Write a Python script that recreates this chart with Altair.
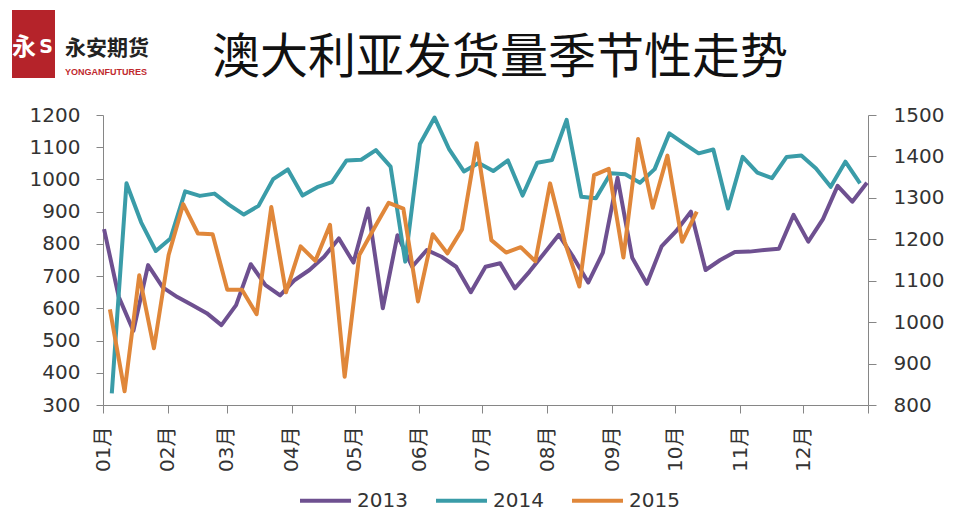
import altair as alt
import pandas as pd

TITLE = "澳大利亚发货量季节性走势"
LOGO_CN = "永安期货"
LOGO_EN = "YONGANFUTURES"
YEARS = ["2013", "2014", "2015"]
COLORS = ["#6E5090", "#3A9CA8", "#E0873A"]
# day offset of first weekly observation within the year
START_DAY = {"2013": 0.5, "2014": 4.2, "2015": 3.3}

V2013 = [846, 636, 530, 734, 665, 635, 610, 585, 548, 610,
         737, 672, 640, 688, 719, 760, 817, 742, 910, 600,
         827, 729, 781, 760, 729, 650, 729, 740, 662, 714,
         771, 828, 758, 680, 773, 1005, 757, 676, 792, 840,
         900, 719, 750, 775, 776, 781, 785, 890, 807, 877,
         980, 931, 990]
V2014 = [336, 988, 867, 778, 817, 963, 949, 956, 921, 891,
         918, 1001, 1031, 950, 976, 992, 1059, 1061, 1091, 1040,
         745, 1110, 1192, 1093, 1025, 1051, 1026, 1059, 950, 1052,
         1060, 1185, 946, 942, 1019, 1016, 990, 1032, 1143, 1111,
         1081, 1093, 910, 1070, 1021, 1004, 1070, 1074, 1034, 977,
         1055, 988]
V2015 = [1031, 833, 1113, 937, 1162, 1285, 1214, 1212, 1078, 1078,
         1019, 1278, 1072, 1183, 1148, 1235, 868, 1162, 1226, 1288,
         1274, 1050, 1212, 1166, 1224, 1432, 1198, 1168, 1181, 1147,
         1335, 1194, 1086, 1355, 1370, 1156, 1442, 1276, 1402, 1194,
         1267]

LEFT_TICKS = list(range(300, 1201, 100))
RIGHT_TICKS = list(range(800, 1501, 100))

rows = []
base = pd.Timestamp("2001-01-01")
for yr, vals in zip(YEARS, [V2013, V2014, V2015]):
    for k, v in enumerate(vals):
        d = base + pd.Timedelta(days=START_DAY[yr] + 7 * k)
        rows.append({"date": d.strftime("%Y-%m-%dT%H:%M:%S"), "value": v, "year": yr})
df = pd.DataFrame(rows)

AXIS_GRAY = "#868686"
LABEL_COLOR = "#333333"

x_enc = alt.X(
    "date:T",
    title=None,
    scale=alt.Scale(domain=[alt.DateTime(year=2001, month=1, date=1),
                            alt.DateTime(year=2002, month=1, date=1)]),
    axis=alt.Axis(
        values=[alt.DateTime(year=2001, month=m, date=1) for m in range(1, 13)]
        + [alt.DateTime(year=2002, month=1, date=1)],
        labelExpr="year(datum.value) > 2001 ? '' : timeFormat(datum.value, '%m月')",
        labelAngle=270, labelFontSize=20, labelFont="DejaVu Sans, Noto Sans CJK SC",
        labelColor=LABEL_COLOR, labelPadding=13, labelFlush=False, labelOverlap=False,
        tickSize=8, tickColor=AXIS_GRAY, domainColor=AXIS_GRAY, grid=False,
    ),
)

color_enc = alt.Color(
    "year:N",
    scale=alt.Scale(domain=YEARS, range=COLORS),
    legend=alt.Legend(
        title=None, orient="none", legendX=195, legendY=358, direction="horizontal",
        symbolType="stroke", symbolSize=2600, symbolStrokeWidth=4,
        labelFontSize=20, labelFont="DejaVu Sans", labelColor=LABEL_COLOR,
        labelOffset=4, columnPadding=20, padding=0,
    ),
)

left = alt.Chart(df).transform_filter("datum.year != '2015'").mark_line(
    strokeWidth=4, strokeJoin="round"
).encode(
    x=x_enc,
    y=alt.Y("value:Q", title=None,
            scale=alt.Scale(domain=[300, 1200], nice=False, zero=False),
            axis=alt.Axis(values=LEFT_TICKS, orient="left", format="d", tickSize=7,
                          labelPadding=16, labelFontSize=20, labelFont="DejaVu Sans",
                          labelColor=LABEL_COLOR, tickColor=AXIS_GRAY,
                          domainColor=AXIS_GRAY, grid=False)),
    color=color_enc,
)

right = alt.Chart(df).transform_filter("datum.year == '2015'").mark_line(
    strokeWidth=4, strokeJoin="round"
).encode(
    x=x_enc,
    y=alt.Y("value:Q", title=None,
            scale=alt.Scale(domain=[800, 1500], nice=False, zero=False),
            axis=alt.Axis(values=RIGHT_TICKS, orient="right", format="d", tickSize=8,
                          labelPadding=17, labelFontSize=20, labelFont="DejaVu Sans",
                          labelColor=LABEL_COLOR, tickColor=AXIS_GRAY,
                          domainColor=AXIS_GRAY, grid=False)),
    color=color_enc,
)

deco = pd.DataFrame({"t": [TITLE], "cn": [LOGO_CN], "en": [LOGO_EN], "a": ["永"], "s": ["S"]})

title = alt.Chart(deco).mark_text(
    font="Noto Sans CJK SC", fontSize=48, color="#111111", align="center", baseline="alphabetic"
).encode(text="t:N", x=alt.value(397), y=alt.value(-42))

logo_box = alt.Chart(deco).mark_rect(color="#B5232A").encode(
    x=alt.value(-91), x2=alt.value(-48), y=alt.value(-105), y2=alt.value(-37)
)
logo_a = alt.Chart(deco).mark_text(
    font="Noto Sans CJK SC", fontSize=24, fontWeight="bold", color="white", align="center",
    baseline="alphabetic"
).encode(text="a:N", x=alt.value(-79), y=alt.value(-60))
logo_s = alt.Chart(deco).mark_text(
    font="DejaVu Sans", fontSize=19, fontWeight="bold", color="white", align="center",
    baseline="alphabetic"
).encode(text="s:N", x=alt.value(-57), y=alt.value(-62))
logo_cn = alt.Chart(deco).mark_text(
    font="Noto Sans CJK SC", fontSize=21, fontWeight="bold", color="#222222", align="left",
    baseline="alphabetic"
).encode(text="cn:N", x=alt.value(-38), y=alt.value(-60))
logo_en = alt.Chart(deco).mark_text(
    font="Liberation Sans", fontSize=9, fontWeight="bold", color="#C0282D", align="left",
    baseline="alphabetic"
).encode(text="en:N", x=alt.value(-38), y=alt.value(-40))

chart = alt.layer(left, right, title, logo_box, logo_a, logo_s, logo_cn, logo_en).resolve_scale(
    y="independent"
).properties(
    width=765, height=290,
    padding={"left": 95, "top": 107, "right": 79, "bottom": 107},
    autosize=alt.AutoSizeParams(type="none"),
).configure_view(strokeWidth=0)

chart.save("out.html", embed_options={"renderer": "svg", "actions": False})
